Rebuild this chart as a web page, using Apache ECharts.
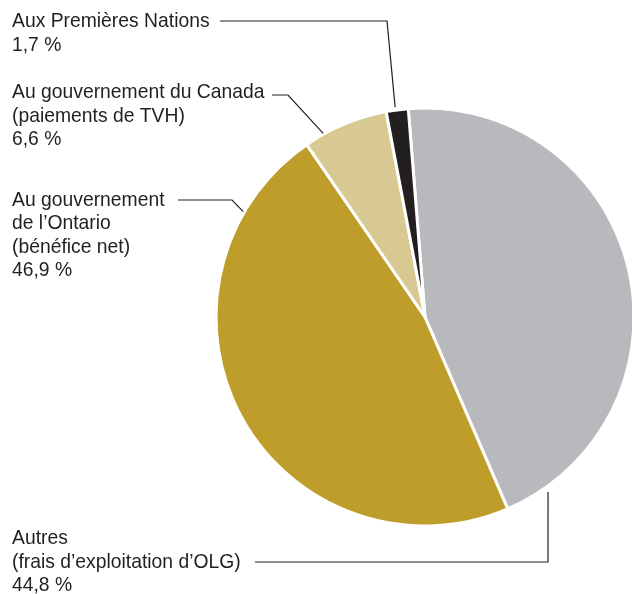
<!DOCTYPE html>
<html>
<head>
<meta charset="utf-8">
<script src="https://cdn.jsdelivr.net/npm/echarts@6/dist/echarts.min.js"></script>
<style>
  html, body { margin: 0; padding: 0; background: #fff; }
  #chart { width: 632px; height: 594px; }
</style>
</head>
<body>
<div id="chart"></div>
<script>
// Répartition des revenus (%), dans le sens horaire depuis le haut
var categories = [
  'Autres\n(frais d’exploitation d’OLG)',
  'Au gouvernement\nde l’Ontario\n(bénéfice net)',
  'Au gouvernement du Canada\n(paiements de TVH)',
  'Aux Premières Nations'
];
var shares = [44.8, 46.9, 6.6, 1.7];
var colors = ['#b8b9bc', '#bf9d2b', '#d8c891', '#231f20'];

// Mise en page
var CENTER = [425, 317];
var RADIUS = 209;
var LABEL_X = 12;
var labelCenterY = [562, 235, 116, 33];
// Traits de rappel : début du trait, coude, puis point d'attache sur le disque (angle en degrés depuis le haut, rayon)
var leaders = [
  { from: [255, 562], elbow: [548, 562], angle: 144.9, r: 214 },
  { from: [178, 200], elbow: [232, 200], angle: -59.9, r: 210 },
  { from: [272, 95],  elbow: [288, 95],  angle: -29.0, r: 210 },
  { from: [220, 21],  elbow: [387, 21],  angle: -8.1,  r: 212 }
];

function polar(angleDeg, r) {
  var a = angleDeg * Math.PI / 180;
  return [CENTER[0] + r * Math.sin(a), CENTER[1] - r * Math.cos(a)];
}

function fmtPct(v) {
  return v.toFixed(1).replace('.', ',') + '\u00a0%';
}

var chart = echarts.init(document.getElementById('chart'), null, { renderer: 'canvas' });

var graphics = [];
leaders.forEach(function (l) {
  graphics.push({
    type: 'polyline',
    shape: { points: [l.from, l.elbow, polar(l.angle, l.r)] },
    style: { stroke: '#231f20', lineWidth: 1.2, fill: null },
    silent: true,
    z: 10
  });
});
// Étiquettes en caractères étroits (police élargie puis resserrée horizontalement)
categories.forEach(function (c, i) {
  graphics.push({
    type: 'text',
    x: LABEL_X,
    y: labelCenterY[i],
    scaleX: 0.92,
    scaleY: 1,
    silent: true,
    z: 10,
    style: {
      text: c + '\n' + fmtPct(shares[i]),
      fill: '#231f20',
      fontFamily: '"Liberation Sans", Arial, sans-serif',
      fontSize: 21,
      lineHeight: 23.5,
      align: 'left',
      verticalAlign: 'middle'
    }
  });
});

chart.setOption({
  animation: false,
  backgroundColor: '#ffffff',
  graphic: graphics,
  series: [{
    type: 'pie',
    center: CENTER,
    radius: [0, RADIUS],
    startAngle: 94.6,
    clockwise: true,
    avoidLabelOverlap: false,
    itemStyle: { borderColor: '#ffffff', borderWidth: 3 },
    label: { show: false },
    labelLine: { show: false },
    data: categories.map(function (c, i) {
      return { name: c, value: shares[i], itemStyle: { color: colors[i] } };
    })
  }]
});
</script>
</body>
</html>
